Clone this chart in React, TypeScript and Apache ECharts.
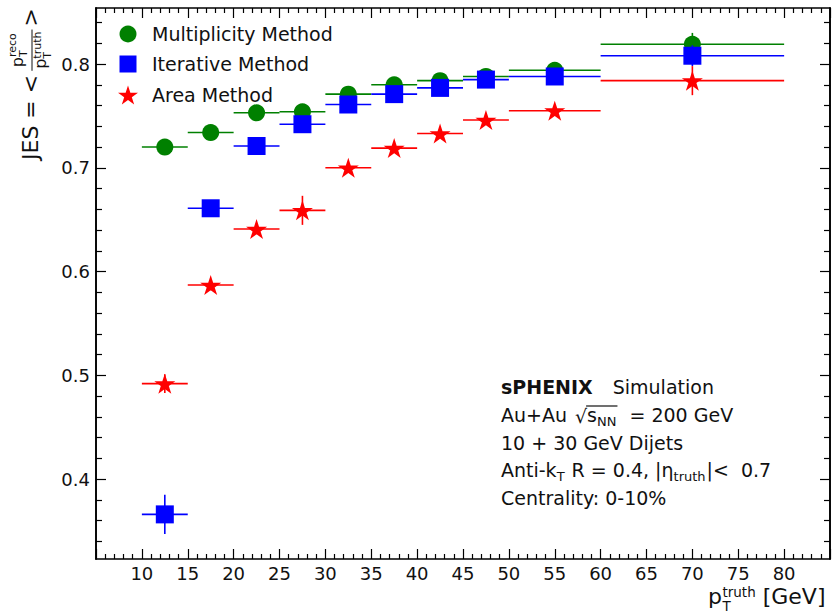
import React, { useEffect, useRef } from 'react';
import * as echarts from 'echarts';

// ---- data ----
const binCenters = [12.5, 17.5, 22.5, 27.5, 32.5, 37.5, 42.5, 47.5, 55, 70];
const binLow = [10, 15, 20, 25, 30, 35, 40, 45, 50, 60];
const binHigh = [15, 20, 25, 30, 35, 40, 45, 50, 60, 80];

const multiplicityJES = [0.72, 0.734, 0.753, 0.754, 0.771, 0.78, 0.784, 0.788, 0.794, 0.819];
const multiplicityErr = [0.003, 0.003, 0.003, 0.004, 0.003, 0.003, 0.003, 0.003, 0.003, 0.011];
const iterativeJES = [0.366, 0.661, 0.721, 0.742, 0.761, 0.771, 0.777, 0.785, 0.788, 0.808];
const iterativeErr = [0.019, 0.004, 0.004, 0.005, 0.003, 0.003, 0.003, 0.003, 0.003, 0.01];
const areaJES = [0.492, 0.587, 0.641, 0.659, 0.7, 0.719, 0.733, 0.746, 0.755, 0.784];
const areaErr = [0.009, 0.005, 0.005, 0.014, 0.004, 0.004, 0.003, 0.003, 0.004, 0.014];

const xTickLabels = [10, 15, 20, 25, 30, 35, 40, 45, 50, 55, 60, 65, 70, 75, 80];
const yMajorTicks = [0.4, 0.5, 0.6, 0.7, 0.8];
const yMinorTicks = [0.34, 0.36, 0.38, 0.42, 0.44, 0.46, 0.48, 0.52, 0.54, 0.56, 0.58,
  0.62, 0.64, 0.66, 0.68, 0.72, 0.74, 0.76, 0.78, 0.82, 0.84];

const legendNames = ['Multiplicity Method', 'Iterative Method', 'Area Method'];
const annotationLines = ['10 + 30 GeV Dijets', 'Centrality: 0-10%'];

const GREEN = '#008000';
const BLUE = '#0000ff';
const RED = '#ff0000';
const FONT = '"DejaVu Sans", sans-serif';
const TXT = '#111';
const STAR_PATH =
  'path://M0,-1L0.2245,-0.309L0.9511,-0.309L0.3633,0.118L0.5878,0.809L0,0.382L-0.5878,0.809L-0.3633,0.118L-0.9511,-0.309L-0.2245,-0.309Z';

// ---- text helpers ----
let measureCtx: CanvasRenderingContext2D | null = null;
function tw(t: string, size: number, weight = 'normal') {
  if (!measureCtx) measureCtx = document.createElement('canvas').getContext('2d');
  measureCtx!.font = `${weight} ${size}px ${FONT}`;
  return measureCtx!.measureText(t).width;
}
function piece(x: number, baseline: number, t: string, size: number, weight = 'normal', color = TXT, lineHeight?: number) {
  const style: any = {
    text: t,
    fontSize: size,
    fontFamily: FONT,
    fontWeight: weight,
    fill: color,
    textAlign: 'left',
    align: 'left',
    textVerticalAlign: 'middle',
    verticalAlign: 'middle',
  };
  if (lineHeight) style.lineHeight = lineHeight;
  return { type: 'text', x, y: baseline - 0.35 * size, z: 50, silent: true, style };
}
function starPoints(cx: number, cy: number, R: number) {
  const pts: number[][] = [];
  for (let k = 0; k < 10; k++) {
    const a = -Math.PI / 2 + (k * Math.PI) / 5;
    const r = k % 2 === 0 ? R : R * 0.382;
    pts.push([cx + r * Math.cos(a), cy + r * Math.sin(a)]);
  }
  return pts;
}

function errSeries(color: string, ys: number[], errs: number[], z: number) {
  return {
    type: 'custom',
    xAxisIndex: 0,
    yAxisIndex: 0,
    silent: true,
    z,
    data: binCenters.map((x, i) => [x, ys[i], binLow[i], binHigh[i], ys[i] - errs[i], ys[i] + errs[i]]),
    encode: { x: [0, 2, 3], y: [1, 4, 5] },
    renderItem: (_p: any, api: any) => {
      const x = api.value(0);
      const y = api.value(1);
      const a = api.coord([api.value(2), y]);
      const b = api.coord([api.value(3), y]);
      const c = api.coord([x, api.value(4)]);
      const d = api.coord([x, api.value(5)]);
      return {
        type: 'group',
        children: [
          { type: 'line', shape: { x1: a[0], y1: a[1], x2: b[0], y2: b[1] }, style: { stroke: color, lineWidth: 1.6 } },
          { type: 'line', shape: { x1: c[0], y1: c[1], x2: d[0], y2: d[1] }, style: { stroke: color, lineWidth: 1.6 } },
        ],
      };
    },
  };
}
function markerSeries(name: string, color: string, ys: number[], symbol: string, size: any, z: number) {
  return {
    type: 'scatter',
    name,
    xAxisIndex: 0,
    yAxisIndex: 0,
    z,
    symbol,
    symbolSize: size,
    data: binCenters.map((x, i) => [x, ys[i]]),
    itemStyle: { color, opacity: 1 },
    emphasis: { disabled: true },
    silent: true,
  };
}

function buildGraphics() {
  const g: any[] = [];
  // legend
  const ly = [34, 64, 95];
  g.push({ type: 'circle', z: 50, silent: true, shape: { cx: 128, cy: ly[0], r: 8.5 }, style: { fill: GREEN } });
  g.push({ type: 'rect', z: 50, silent: true, shape: { x: 119.5, y: ly[1] - 8.5, width: 17, height: 17 }, style: { fill: BLUE } });
  g.push({ type: 'polygon', z: 50, silent: true, shape: { points: starPoints(128, ly[2] + 1, 10.5) }, style: { fill: RED } });
  legendNames.forEach((n, i) => g.push(piece(152, ly[i] + 7, n, 19)));

  // annotation
  const ax = 501;
  const S = 19;
  const sub = 13;
  const bl = [394, 422, 450, 477, 505];
  g.push(piece(ax, bl[0], 'sPHENIX', S, 'bold'));
  g.push(piece(ax + tw('sPHENIX', S, 'bold') + 20, bl[0], 'Simulation', S));
  // line 2
  let x = ax;
  g.push(piece(x, bl[1], 'Au+Au', S));
  x += tw('Au+Au', S) + 8;
  g.push(piece(x, bl[1] + 1, '\u221A', S));
  x += tw('\u221A', S);
  const ovStart = x - 1;
  g.push(piece(x, bl[1], 's', S));
  x += tw('s', S);
  g.push(piece(x, bl[1] + 4, 'NN', sub));
  x += tw('NN', sub) + 1;
  g.push({ type: 'line', z: 50, silent: true, shape: { x1: ovStart, y1: bl[1] - 16, x2: x, y2: bl[1] - 16 }, style: { stroke: TXT, lineWidth: 1.2 } });
  x += 12;
  g.push(piece(x, bl[1], '= 200 GeV', S));
  // line 3
  g.push(piece(ax, bl[2], annotationLines[0], S));
  // line 4
  x = ax;
  g.push(piece(x, bl[3], 'Anti-k', S));
  x += tw('Anti-k', S);
  g.push(piece(x, bl[3] + 4, 'T', sub));
  x += tw('T', sub) + 1;
  g.push(piece(x, bl[3], ' R = 0.4, |\u03B7', S));
  x += tw(' R = 0.4, |\u03B7', S);
  g.push(piece(x, bl[3] + 4, 'truth', sub));
  x += tw('truth', sub) + 1;
  g.push(piece(x, bl[3], '|<  0.7', S));
  // line 5
  g.push(piece(ax, bl[4], annotationLines[1], S));

  // x axis label: p with stacked superscript "truth" and subscript "T"
  const XS = 22;
  const XSS = 13.5;
  x = 708;
  const xb = 604;
  g.push(piece(x, xb, 'p', XS));
  x += tw('p', XS) + 0.5;
  g.push(piece(x, xb, 'truth\nT', XSS, 'normal', TXT, 14));
  x += Math.max(tw('truth', XSS), tw('T', XSS));
  g.push(piece(x, xb, ' [GeV]', XS));

  // y axis label (rotated group; local +x = screen up, local +y = screen right)
  const YS = 22;
  const ch: any[] = [];
  const main = 'JES = <';
  ch.push(piece(0, 0, main, YS));
  const fx = tw(main, YS) + 4;
  const FS = 16;
  const FSS = 11;
  const wp = tw('p', FS);
  const numW = wp + Math.max(tw('reco', FSS), tw('T', FSS));
  const denW = wp + Math.max(tw('truth', FSS), tw('T', FSS));
  const barW = Math.max(numW, denW) + 4;
  const nx = fx + (barW - numW) / 2;
  ch.push(piece(nx, -15, 'p', FS));
  ch.push(piece(nx + wp, -22, 'reco', FSS));
  ch.push(piece(nx + wp, -10.5, 'T', FSS));
  const dx = fx + (barW - denW) / 2;
  ch.push(piece(dx, 8.5, 'p', FS));
  ch.push(piece(dx + wp, 3.5, 'truth', FSS));
  ch.push(piece(dx + wp, 13, 'T', FSS));
  ch.push({ type: 'line', z: 50, silent: true, shape: { x1: fx, y1: -6, x2: fx + barW, y2: -6 }, style: { stroke: TXT, lineWidth: 1 } });
  ch.push(piece(fx + barW + 3, 0, '>', YS));
  g.push({ type: 'group', x: 38, y: 160, rotation: Math.PI / 2, silent: true, children: ch });
  return g;
}

const axisLine = { show: true, onZero: false, lineStyle: { color: '#000', width: 1.6 } };
const tickStyle = { color: '#000', width: 1.2 };

export default function App() {
  const ref = useRef<HTMLDivElement>(null);
  useEffect(() => {
    if (!ref.current) return;
    const chart = echarts.init(ref.current, null, { renderer: 'svg' });
    const xBase = {
      type: 'value',
      min: 5,
      max: 85,
      interval: 5,
      splitLine: { show: false },
      axisLine,
      axisTick: { show: true, inside: true, length: 10, lineStyle: tickStyle },
      minorTick: { show: true, splitNumber: 5, length: 5, lineStyle: tickStyle },
    };
    const yBase = {
      type: 'value',
      min: 0.323,
      max: 0.854,
      splitLine: { show: false },
      axisLine,
    };
    chart.setOption({
      animation: false,
      backgroundColor: '#fff',
      grid: { left: 96, right: 6, top: 8, bottom: 54, containLabel: false },
      xAxis: [
        {
          ...xBase,
          position: 'bottom',
          axisLabel: {
            show: true,
            margin: 5,
            fontSize: 18,
            fontFamily: FONT,
            color: TXT,
            formatter: (v: number) => (xTickLabels.includes(v) ? String(v) : ''),
          },
        },
        { ...xBase, position: 'top', axisLabel: { show: false } },
      ],
      yAxis: [
        {
          ...yBase,
          position: 'left',
          axisTick: { show: true, inside: true, length: 10, lineStyle: tickStyle, customValues: yMajorTicks },
          axisLabel: {
            show: true,
            margin: 6,
            fontSize: 18,
            fontFamily: FONT,
            color: TXT,
            customValues: yMajorTicks,
            formatter: (v: number) => v.toFixed(1),
          },
        },
        {
          ...yBase,
          position: 'left',
          axisTick: { show: true, inside: true, length: 6, lineStyle: tickStyle, customValues: yMinorTicks },
          axisLabel: { show: false },
        },
        {
          ...yBase,
          position: 'right',
          axisTick: { show: true, inside: true, length: 10, lineStyle: tickStyle, customValues: yMajorTicks },
          axisLabel: { show: false },
        },
        {
          ...yBase,
          position: 'right',
          axisTick: { show: true, inside: true, length: 6, lineStyle: tickStyle, customValues: yMinorTicks },
          axisLabel: { show: false },
        },
      ],
      series: [
        errSeries(GREEN, multiplicityJES, multiplicityErr, 2),
        markerSeries(legendNames[0], GREEN, multiplicityJES, 'circle', 17, 3),
        errSeries(BLUE, iterativeJES, iterativeErr, 4),
        markerSeries(legendNames[1], BLUE, iterativeJES, 'rect', 18, 5),
        errSeries(RED, areaJES, areaErr, 6),
        markerSeries(legendNames[2], RED, areaJES, STAR_PATH, [21, 20], 7),
      ],
      graphic: { elements: buildGraphics() },
    });
    return () => chart.dispose();
  }, []);
  return <div ref={ref} style={{ position: 'absolute', left: 0, top: 0, width: 836, height: 613 }} />;
}
